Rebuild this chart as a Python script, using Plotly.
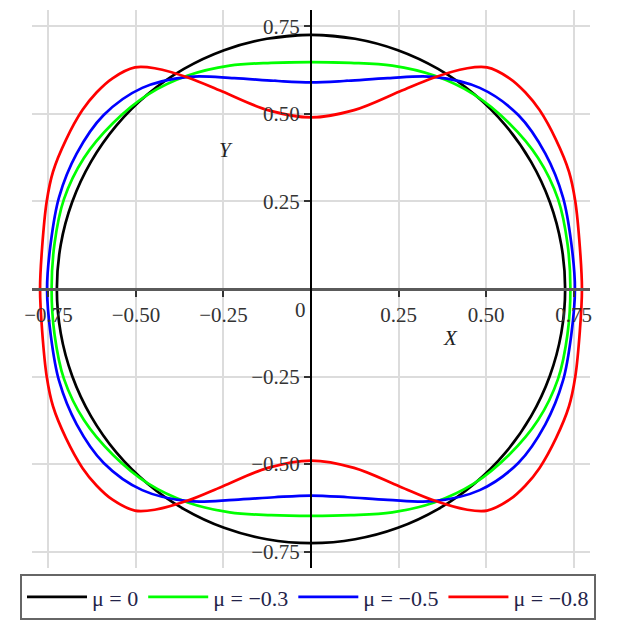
import math
import plotly.graph_objects as go

# First-quadrant shapes; the curves are symmetric about both axes.
# Near-circular curves: radii at polar angles (degrees)
angles_10 = [0, 10, 20, 30, 40, 50, 60, 70, 80, 90]
black_r = [0.726, 0.726, 0.726, 0.726, 0.726, 0.726, 0.726, 0.726, 0.726, 0.726]
green_r = [0.741, 0.744, 0.751, 0.749, 0.738, 0.725, 0.704, 0.679, 0.656, 0.648]
blue_r = [0.754, 0.755, 0.766, 0.773, 0.773, 0.750, 0.700, 0.641, 0.604, 0.590]

# mu = -0.8 curve: x/y points from the top (x = 0) to the right (y = 0)
red_x = [0.0, 0.123, 0.253, 0.348, 0.443, 0.503, 0.567, 0.612, 0.653, 0.700, 0.737, 0.755, 0.768, 0.774]
red_y = [0.490, 0.511, 0.564, 0.603, 0.630, 0.633, 0.602, 0.562, 0.511, 0.426, 0.335, 0.25, 0.12, 0.0]

series_names = ["μ = 0", "μ = −0.3", "μ = −0.5", "μ = −0.8"]
series_colors = ["#000000", "#00ff00", "#0000ff", "#ff0000"]

tick_vals = [-0.75, -0.5, -0.25, 0.25, 0.5, 0.75]
tick_text = ["−0.75", "−0.50", "−0.25", "0.25", "0.50", "0.75"]


def polar_quadrant(angles, radii):
    # ordered from the top (90°) to the right (0°)
    return [(r * math.cos(math.radians(a)), r * math.sin(math.radians(a)))
            for a, r in zip(reversed(angles), reversed(radii))]


def full_curve(pts):
    q1 = pts
    q4 = [(x, -y) for x, y in reversed(pts)][1:]
    q3 = [(-x, -y) for x, y in pts][1:]
    q2 = [(-x, y) for x, y in reversed(pts)][1:]
    loop = q1 + q4 + q3 + q2  # last point equals first
    loop = [loop[-2]] + loop + [loop[1]]  # overlap so the spline is smooth at closure
    return [p[0] for p in loop], [p[1] for p in loop]


quadrants = [
    polar_quadrant(angles_10, black_r),
    polar_quadrant(angles_10, green_r),
    polar_quadrant(angles_10, blue_r),
    list(zip(red_x, red_y)),
]

fig = go.Figure()
for pts, name, col in zip(quadrants, series_names, series_colors):
    xs, ys = full_curve(pts)
    fig.add_trace(go.Scatter(x=xs, y=ys, mode="lines", name=name,
                             line=dict(color=col, width=2.7, shape="spline",
                                       smoothing=1.0, simplify=False),
                             hoverinfo="skip"))

serif = "Liberation Serif"
axis_common = dict(
    range=[-0.797, 0.797],
    tickvals=tick_vals,
    ticktext=tick_text,
    showgrid=True,
    gridcolor="#dcdcdc",
    gridwidth=1.5,
    zeroline=False,
    showline=True,
    anchor="free",
    position=0.5,
    ticks="outside",
    ticklen=6,
    tickwidth=1.5,
    tickcolor="#333333",
    tickfont=dict(family=serif, size=21, color="#333333"),
    fixedrange=True,
)

# the page body has an 8px margin, so the figure is 617px and offsets are reduced by 8
fig.update_layout(
    width=617, height=617,
    margin=dict(l=24, r=35, t=2, b=57, autoexpand=False),
    plot_bgcolor="white",
    paper_bgcolor="white",
    xaxis=dict(**axis_common, linecolor="#5a5a5a", linewidth=3),
    yaxis=dict(**axis_common, linecolor="#000000", linewidth=2),
    showlegend=True,
    legend=dict(
        orientation="h",
        x=-0.0215, y=-0.011, xanchor="left", yanchor="top",
        bordercolor="#666666", borderwidth=2, bgcolor="white",
        font=dict(family=serif, size=22, color="#24244a"),
        itemwidth=60,
    ),
    annotations=[
        dict(x=0.399, y=-0.14, text="<i>X</i>", showarrow=False,
             font=dict(family=serif, size=21, color="#222222")),
        dict(x=-0.244, y=0.397, text="<i>Y</i>", showarrow=False,
             font=dict(family=serif, size=21, color="#222222")),
        dict(x=-0.03, y=-0.06, text="0", showarrow=False,
             font=dict(family=serif, size=21, color="#333333")),
    ],
)

fig.write_html("out.html")
